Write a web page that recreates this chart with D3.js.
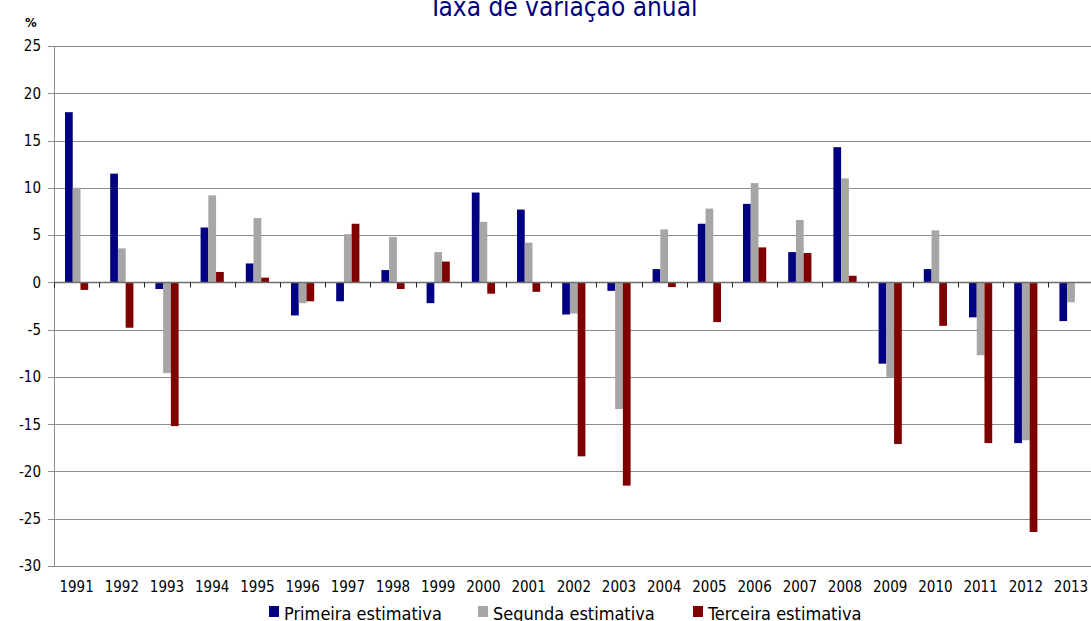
<!DOCTYPE html>
<html>
<head>
<meta charset="utf-8">
<script src="https://cdn.jsdelivr.net/npm/d3@7"></script>
<style>
  body { margin: 0; background: #fff; }
  text { font-family: "DejaVu Sans Condensed", "DejaVu Sans", sans-serif; }
</style>
</head>
<body>
<div id="chart"></div>
<script>
var width = 1091,
    height = 621;

var years = ["1991","1992","1993","1994","1995","1996","1997","1998","1999","2000","2001","2002",
             "2003","2004","2005","2006","2007","2008","2009","2010","2011","2012","2013"];

var primeira = [18.0, 11.5, -0.7, 5.8, 2.0, -3.5, -2.0, 1.3, -2.2, 9.5, 7.7, -3.4,
                -0.9, 1.4, 6.2, 8.3, 3.2, 14.3, -8.6, 1.4, -3.7, -17.0, -4.1];
var segunda  = [10.0, 3.6, -9.6, 9.2, 6.8, -2.2, 5.1, 4.8, 3.2, 6.4, 4.2, -3.3,
                -13.4, 5.6, 7.8, 10.5, 6.6, 11.0, -10.0, 5.5, -7.7, -16.7, -2.1];
var terceira = [-0.8, -4.8, -15.2, 1.1, 0.5, -2.0, 6.2, -0.7, 2.2, -1.2, -1.0, -18.4,
                -21.5, -0.5, -4.2, 3.7, 3.1, 0.7, -17.1, -4.6, -17.0, -26.4, null];

var seriesNames = ["Primeira estimativa", "Segunda estimativa", "Terceira estimativa"];
var seriesColors = ["#000080", "#a6a6a6", "#800000"];
var yTicks = [25, 20, 15, 10, 5, 0, -5, -10, -15, -20, -25, -30];

var series = [primeira, segunda, terceira];

var plotLeft = 54, plotTop = 46, plotBottom = 566,
    band = 45.2;

var x = d3.scaleBand()
    .domain(years)
    .range([plotLeft, plotLeft + band * years.length]);

var xs = d3.scaleBand()
    .domain(d3.range(3))
    .range([(band - 23.2) / 2, (band + 23.2) / 2]);

var y = d3.scaleLinear()
    .domain([-30, 25])
    .range([plotBottom, plotTop]);

var svg = d3.select("#chart").append("svg")
    .attr("width", width)
    .attr("height", height);

// gridlines
svg.append("g")
  .selectAll("line")
  .data(yTicks)
  .enter().append("line")
    .attr("x1", plotLeft)
    .attr("x2", width)
    .attr("y1", function(d) { return Math.round(y(d)) + 0.5; })
    .attr("y2", function(d) { return Math.round(y(d)) + 0.5; })
    .style("stroke", "#8c8c8c")
    .style("stroke-width", 1);

// y axis line and ticks
svg.append("line")
    .attr("x1", plotLeft + 0.5).attr("x2", plotLeft + 0.5)
    .attr("y1", plotTop).attr("y2", plotBottom + 1)
    .style("stroke", "#8c8c8c");

svg.append("g")
  .selectAll("line")
  .data(yTicks)
  .enter().append("line")
    .attr("x1", plotLeft - 6)
    .attr("x2", plotLeft)
    .attr("y1", function(d) { return Math.round(y(d)) + 0.5; })
    .attr("y2", function(d) { return Math.round(y(d)) + 0.5; })
    .style("stroke", "#8c8c8c");

svg.append("g")
  .selectAll("text")
  .data(yTicks)
  .enter().append("text")
    .attr("x", 41)
    .attr("y", function(d) { return y(d); })
    .attr("dy", "0.36em")
    .attr("text-anchor", "end")
    .style("font-size", "15px")
    .style("fill", "#000")
    .text(function(d) { return d; });

// bars
var groups = svg.append("g")
  .selectAll("g")
  .data(years)
  .enter().append("g")
    .attr("transform", function(d) { return "translate(" + x(d) + ",0)"; });

groups.selectAll("rect")
    .data(function(d, i) {
      return series.map(function(s, k) { return {k: k, v: s[i]}; })
        .filter(function(e) { return e.v !== null; });
    })
  .enter().append("rect")
    .attr("x", function(d) { return xs(d.k); })
    .attr("width", xs.bandwidth())
    .attr("y", function(d) { return y(Math.max(0, d.v)); })
    .attr("height", function(d) { return Math.abs(y(d.v) - y(0)); })
    .style("fill", function(d) { return seriesColors[d.k]; });

// zero axis line with ticks between categories
var zeroY = Math.round(y(0)) + 0.5;
svg.append("line")
    .attr("x1", plotLeft).attr("x2", width)
    .attr("y1", zeroY).attr("y2", zeroY)
    .style("stroke", "#6e6e6e")
    .style("stroke-width", 1.5);

svg.append("g")
  .selectAll("line")
  .data(years.concat(["end"]))
  .enter().append("line")
    .attr("x1", function(d, i) { return Math.round(plotLeft + i * band) + 0.5; })
    .attr("x2", function(d, i) { return Math.round(plotLeft + i * band) + 0.5; })
    .attr("y1", zeroY)
    .attr("y2", zeroY + 5)
    .style("stroke", "#222");

// year labels
svg.append("g")
  .selectAll("text")
  .data(years)
  .enter().append("text")
    .attr("x", function(d) { return x(d) + band / 2; })
    .attr("y", 592)
    .attr("text-anchor", "middle")
    .style("font-size", "15px")
    .style("fill", "#000")
    .text(function(d) { return d; });

// title and unit
svg.append("text")
    .attr("x", 563)
    .attr("y", 16)
    .attr("text-anchor", "middle")
    .style("font-size", "26px")
    .style("fill", "#000080")
    .text("Taxa de variação anual");

svg.append("text")
    .attr("x", 25)
    .attr("y", 27)
    .style("font-size", "13px")
    .style("font-weight", "bold")
    .style("fill", "#000")
    .text("%");

// legend
var legendX = [269, 478, 693];
var legend = svg.append("g")
  .selectAll("g")
  .data(seriesNames)
  .enter().append("g")
    .attr("transform", function(d, i) { return "translate(" + legendX[i] + ",0)"; });

legend.append("rect")
    .attr("x", 0)
    .attr("y", 606)
    .attr("width", 10)
    .attr("height", 11)
    .style("fill", function(d, i) { return seriesColors[i]; });

legend.append("text")
    .attr("x", 15)
    .attr("y", 620)
    .style("font-size", "18px")
    .style("fill", "#000")
    .text(function(d) { return d; });
</script>
</body>
</html>
